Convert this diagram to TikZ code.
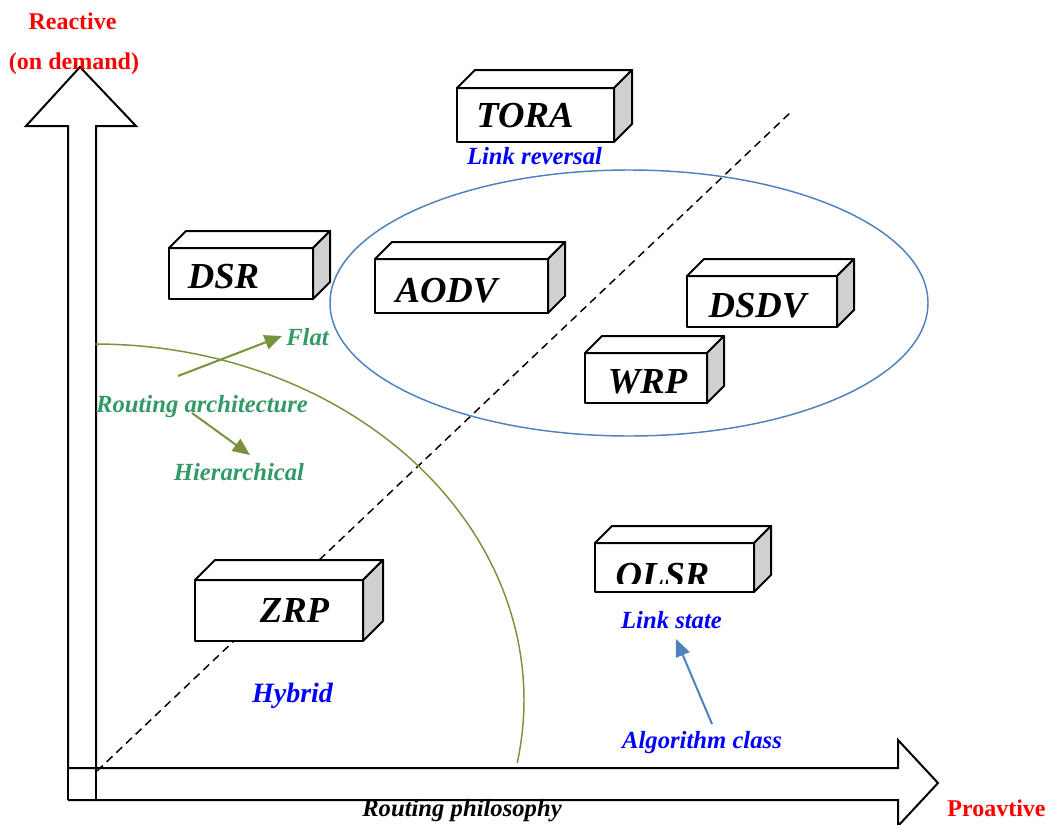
\documentclass[tikz,border=0pt]{standalone}
\usepackage{fontspec}
\setmainfont{Liberation Serif}
\usetikzlibrary{arrows.meta,calc}

\definecolor{olivegreen}{HTML}{77933C}
\definecolor{steelblue}{HTML}{4F81BD}
\definecolor{labelgreen}{RGB}{51,153,102}
\definecolor{labelblue}{RGB}{0,0,255}
\definecolor{sidegray}{RGB}{208,208,208}
\definecolor{axisred}{RGB}{255,0,0}

\tikzset{
  blockarrow/.style={draw=black, line width=1.5pt, line join=miter, fill=white},
  cubeline/.style={draw=black, line width=1.5pt, line join=round},
  cubefront/.style={cubeline, fill=white, inner sep=0pt, outer sep=0pt, anchor=north west},
  protocol/.style={font=\fontsize{27.5pt}{30pt}\selectfont\bfseries\itshape, anchor=base, inner sep=0pt},
  tag/.style={font=\fontsize{18.5pt}{21pt}\selectfont\bfseries\itshape, anchor=base, inner sep=0pt},
  axistitle/.style={font=\fontsize{18pt}{21pt}\selectfont\bfseries, text=axisred, anchor=base, inner sep=0pt},
  greenarrow/.style={olivegreen, line width=1.5pt, -{Triangle[length=13pt,width=11pt]}},
  bluearrow/.style={steelblue, line width=1.5pt, -{Triangle[length=13pt,width=11pt]}},
}

% cuboid: name, left, top, right, bottom, depth of the receding faces
\newcommand{\cuboid}[6]{%
  \node[cubefront, minimum width={(#4-#2)*0.75pt}, minimum height={(#5-#3)*0.75pt}] (#1) at (#2,#3) {};
  \filldraw[cubeline, fill=white] (#1.north west) -- ++(#6,-#6) -- ($(#1.north east)+(#6,-#6)$) -- (#1.north east) -- cycle;
  \filldraw[cubeline, fill=sidegray] (#1.north east) -- ++(#6,-#6) -- ($(#1.south east)+(#6,-#6)$) -- (#1.south east) -- cycle;
}

\begin{document}
\begin{tikzpicture}[x=0.75pt, y=-0.75pt]
\useasboundingbox (0,0) rectangle (1050,825);

% axes drawn as hollow block arrows
\draw[blockarrow] (68,800) -- (68,126) -- (26,126) -- (80,67) -- (136,126) -- (96,126) -- (96,800);
\draw[blockarrow] (68,768) -- (898,768) -- (898,740) -- (938,783) -- (898,826) -- (898,800) -- (68,800);
\draw[line width=1.5pt] (68,768) -- (68,800) (96,768) -- (96,800);

% dividing diagonal
\coordinate (diagA) at (97,771);
\coordinate (diagB) at (792,111);
\draw[line width=1.1pt, dash pattern=on 6pt off 4pt] (diagA) -- (diagB);

% hybrid region boundary
\draw[olivegreen, line width=1.1pt] plot[domain=-90:10.2, samples=90, smooth] ({95+429*cos(\x)}, {700+356*sin(\x)});

% flat-routing group
\coordinate (grp) at (629,303);
\draw[steelblue, line width=1.1pt] (grp) ellipse [x radius=299, y radius=133];

% protocol boxes
\cuboid{tora}{457}{88}{614}{142}{18}
\cuboid{dsr}{169}{248}{313}{299}{17}
\cuboid{aodv}{375}{259}{548}{313}{17}
\cuboid{dsdv}{687}{276}{837}{327}{17}
\cuboid{wrp}{585}{353}{707}{403}{17}
\cuboid{zrp}{195}{580}{363}{641}{20}
\cuboid{olsr}{595}{543}{754}{592}{17}

\node[protocol] (toraT) at (525,127) {TORA};
\node[protocol] (dsrT) at (223.5,288) {DSR};
\node[protocol] (aodvT) at (446.5,302) {AODV};
\node[protocol] (dsdvT) at (757.5,317) {DSDV};
\node[protocol] (wrpT) at (647.5,393) {WRP};
\node[protocol] (zrpT) at (294.5,622) {ZRP};
\begin{scope}
  \clip (597,545) rectangle (752,583);
  \node[protocol] (olsrT) at (662.5,587) {OLSR};
\end{scope}

% axis titles
\node[axistitle] (reactive) at (72.5,29) {Reactive};
\node[axistitle] (ondemand) at (74,69) {(on demand)};
\node[axistitle] (proactive) at (996.5,816) {Proavtive};
\node[tag, text=black] (philosophy) at (462,816) {Routing philosophy};

% classification labels
\node[tag, text=labelblue] (linkrev) at (534.5,164) {Link reversal};
\node[tag, text=labelblue] (linkstate) at (671.5,628) {Link state};
\node[tag, text=labelblue] (algclass) at (702,748) {Algorithm class};
\node[tag, text=labelblue, font=\fontsize{21pt}{24pt}\selectfont\bfseries\itshape] (hybrid) at (292.5,702) {Hybrid};
\node[tag, text=labelgreen] (arch) at (202,412) {Routing architecture};
\node[tag, text=labelgreen] (flat) at (307.5,345) {Flat};
\node[tag, text=labelgreen] (hier) at (239,480) {Hierarchical};

% pointer arrows
\coordinate (archUp) at (178,376);
\coordinate (flatTip) at (282,336);
\coordinate (archDown) at (192,413);
\coordinate (hierTip) at (250,455);
\coordinate (algStart) at (712,724);
\coordinate (stateTip) at (676,639);
\draw[greenarrow] (archUp) -- (flatTip);
\draw[greenarrow] (archDown) -- (hierTip);
\draw[bluearrow] (algStart) -- (stateTip);
\end{tikzpicture}
\end{document}
